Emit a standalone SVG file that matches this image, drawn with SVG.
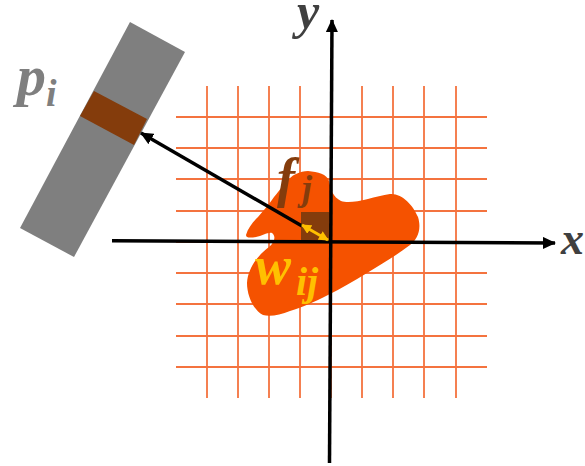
<svg xmlns="http://www.w3.org/2000/svg" width="585" height="466" viewBox="0 0 585 466">
<style>
.g{stroke:#F4733F;stroke-width:1.8;fill:none}
.ax{stroke:#000;stroke-width:3.5;fill:none}
.m{font-family:"Liberation Serif","DejaVu Serif",serif;font-style:italic;font-weight:bold}
</style>
<defs>
<marker id="a" markerUnits="userSpaceOnUse" markerWidth="14" markerHeight="12" refX="12" refY="6" orient="auto"><path d="M0 0L13 6L0 12Z" fill="#000"/></marker>
<marker id="y" markerUnits="userSpaceOnUse" markerWidth="11" markerHeight="10" refX="9" refY="5" orient="auto-start-reverse"><path d="M0 0L10 5L0 10Z" fill="#FFC000"/></marker>
</defs>
<g id="grid">
<path class="g" d="M207 86V398M238 86V398M269 86V398M300 86V398M331 86V398M362 86V398M393 86V398M424 86V398M456 86V398M176 117H487M176 148H487M176 179H487M176 211H487M176 242H487M176 273H487M176 304H487M176 336H487M176 367H487"/>
</g>
<g id="object">
<path fill="#F55200" d="M308 171C318 172 327 174 329 181C331 190 333 197 341 201C352 205 372 197 390 194C402 193 413 205 418 217C422 230 417 240 410 245C397 255 382 264 367 273C354 281 340 289 328 295C315 302 300 308 290 311C280 315 270 317 263 315C253 310 247 295 247 283C248 268 258 255 269 247C275 242 276 236 272 233C268 232 262 236 256 237C250 238 246 238 246 235C248 228 253 222 258 217C264 210 270 203 274 197C280 190 288 177 296 174C300 172 304 171 308 171Z"/>
</g>
<g id="detector">
<path fill="#7F7F7F" d="M130 22L185 52L74 257L20 228Z"/>
<path fill="#843C0C" d="M94 91L147 119L134 145L80 116Z"/>
</g>
<g id="pixel">
<rect x="301" y="212" width="28" height="28" fill="#843C0C"/>
</g>
<g id="connectors">
<path class="ax" marker-end="url(#a)" d="M112 240.7L555 243"/>
<path class="ax" marker-end="url(#a)" d="M329.5 463L332 20"/>
<path class="ax" marker-end="url(#a)" d="M302 226L141 133"/>
<path stroke="#FFC000" stroke-width="3" fill="none" marker-start="url(#y)" marker-end="url(#y)" d="M302 225L328 240"/>
</g>
<g id="labels">
<text class="m" x="17" y="95" font-size="58" fill="#7F7F7F">p</text>
<text class="m" x="46" y="106" font-size="38" fill="#7F7F7F">i</text>
<text class="m" x="277" y="196" font-size="54" fill="#843C0C">f</text>
<text class="m" x="302" y="200" font-size="36" fill="#843C0C">j</text>
<text class="m" x="255" y="284" font-size="54" fill="#FFC000">w</text>
<text class="m" x="296" y="295" font-size="40" fill="#FFC000">ij</text>
<text class="m" x="297" y="28" font-size="50" fill="#404040">y</text>
<text class="m" x="561" y="254" font-size="46" fill="#404040">x</text>
</g>
</svg>
